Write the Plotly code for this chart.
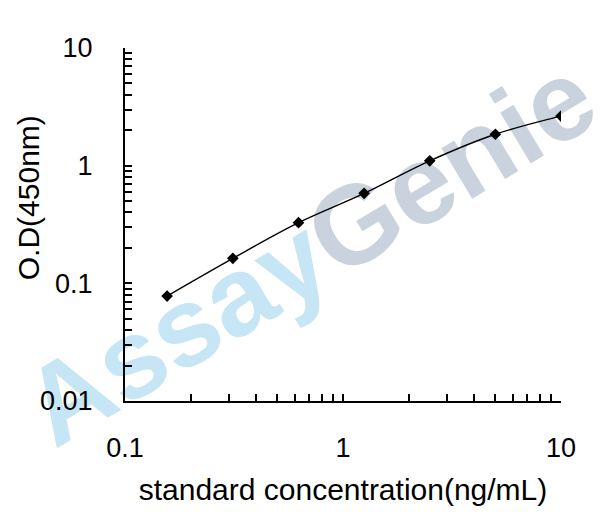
import plotly.graph_objects as go

# Data
concentration = [0.156, 0.3125, 0.625, 1.25, 2.5, 5, 10]
od450 = [0.078, 0.163, 0.328, 0.582, 1.10, 1.85, 2.64]

x_tickvals = [0.1, 0.2, 0.3, 0.4, 0.5, 0.6, 0.7, 0.8, 0.9,
              1, 2, 3, 4, 5, 6, 7, 8, 9, 10]
x_ticktext = ["0.1", "", "", "", "", "", "", "", "",
              "1", "", "", "", "", "", "", "", "", "10"]
y_tickvals = [0.01, 0.02, 0.03, 0.04, 0.05, 0.06, 0.07, 0.08, 0.09,
              0.1, 0.2, 0.3, 0.4, 0.5, 0.6, 0.7, 0.8, 0.9,
              1, 2, 3, 4, 5, 6, 7, 8, 9, 10]
y_ticktext = ["0.01", "", "", "", "", "", "", "", "",
              "0.1", "", "", "", "", "", "", "", "",
              "1", "", "", "", "", "", "", "", "", "10"]

FONT = "Liberation Sans, Arial, sans-serif"

fig = go.Figure()
fig.add_trace(go.Scatter(
    x=concentration, y=od450, mode="lines+markers",
    line=dict(color="black", width=1.4, shape="spline"),
    marker=dict(symbol="diamond", size=9, color="black"),
    showlegend=False,
))

# watermark (drawn below the data)
cx, cy = 0.41, 0.45
fig.add_shape(
    type="rect", xref="paper", yref="paper",
    x0=cx - 0.01, x1=cx + 0.01, y0=cy - 0.01, y1=cy + 0.01,
    line=dict(width=0), fillcolor="rgba(0,0,0,0)", layer="below",
    label=dict(
        text="<b><span style='color:#c6e5f5'>Assay</span><span style='color:#c9d2dd'>Genie</span></b>",
        textangle=-31, textposition="middle center",
        font=dict(family=FONT, size=112, color="#c6e5f5"),
    ),
)

axis_common = dict(
    type="log", showgrid=False, zeroline=False, showline=True,
    linecolor="black", linewidth=2, ticks="inside", ticklen=7,
    tickwidth=1.5, tickcolor="black", mirror=False,
    tickfont=dict(family=FONT, size=27, color="black"),
)

fig.update_xaxes(
    **axis_common, range=[-1, 1], tickmode="array",
    tickvals=x_tickvals, ticktext=x_ticktext, ticklabelstandoff=22,
    title=dict(text="standard concentration(ng/mL)",
               font=dict(family=FONT, size=30, color="black"), standoff=17),
)
fig.update_yaxes(
    **axis_common, range=[-2, 1], tickmode="array",
    tickvals=y_tickvals, ticktext=y_ticktext, ticklabelstandoff=25,
)

# y axis title, placed off-centre as in the reference
fig.add_annotation(
    xref="paper", yref="paper", x=-0.222, y=0.575,
    xanchor="center", yanchor="middle",
    text="O.D(450nm)", showarrow=False, textangle=-90,
    font=dict(family=FONT, size=30, color="black"),
)

fig.update_layout(
    width=600, height=511,
    margin=dict(l=117, r=47, t=40, b=118, autoexpand=False),
    paper_bgcolor="white", plot_bgcolor="rgba(0,0,0,0)",
)

fig.write_html("out.html")
